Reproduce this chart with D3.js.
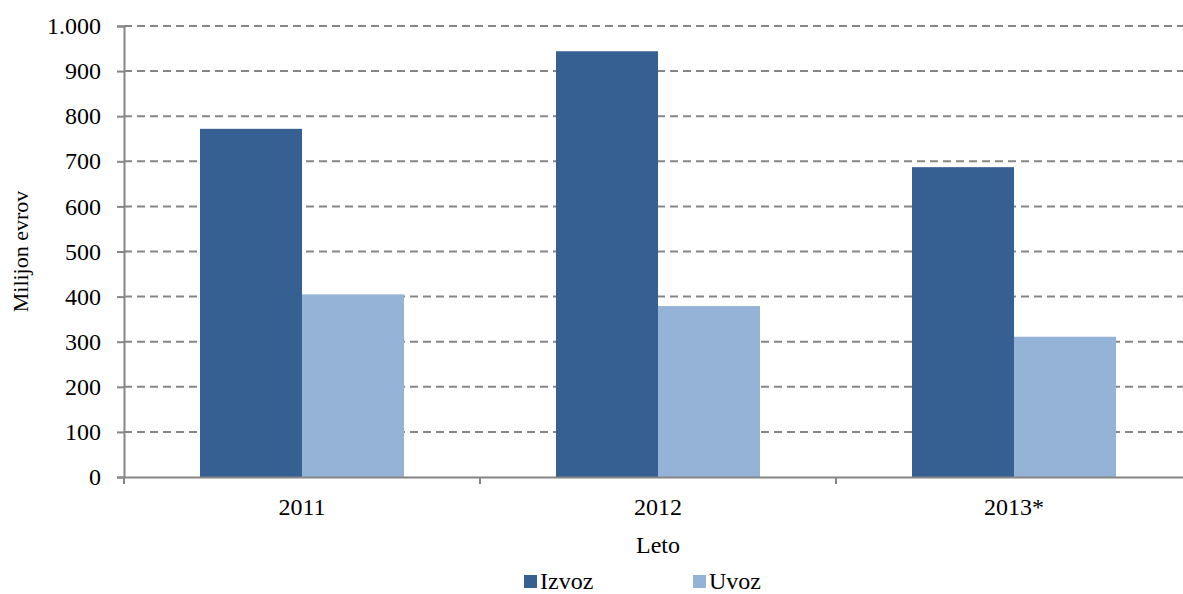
<!DOCTYPE html>
<html>
<head>
<meta charset="utf-8">
<script src="https://cdn.jsdelivr.net/npm/d3@7"></script>
<style>
  body { margin: 0; background: #fff; }
  text { font-family: "Liberation Serif", serif; }
</style>
</head>
<body>
<script>
// data
const categories = ["2011", "2012", "2013*"];
const seriesNames = ["Izvoz", "Uvoz"];
const izvoz = [772, 944, 687];
const uvoz = [405, 379, 311];
const yTicks = [0, 100, 200, 300, 400, 500, 600, 700, 800, 900, 1000];
const colors = ["#366092", "#95b3d7"];

const width = 1183, height = 594;
const margin = { top: 26, left: 124, plotRight: 1192, bottom: 477 };
const fontFamily = "Liberation Serif";
const fontSize = 24;

const svg = d3.select("body").append("svg")
    .attr("width", width)
    .attr("height", height)
    .attr("font-family", fontFamily);

const y = d3.scaleLinear()
    .domain([0, 1000])
    .range([margin.bottom, margin.top]);

const x0 = d3.scaleBand()
    .domain(categories)
    .range([margin.left, margin.plotRight])
    .paddingInner(0)
    .paddingOuter(0);

const gap = x0.bandwidth() * 0.2135;
const x1 = d3.scaleBand()
    .domain(seriesNames)
    .range([gap, x0.bandwidth() - gap])
    .padding(0);

// gridlines
svg.append("g")
    .selectAll("line")
    .data(yTicks.filter(d => d > 0))
    .enter().append("line")
    .attr("x1", margin.left)
    .attr("x2", margin.plotRight)
    .attr("y1", d => y(d))
    .attr("y2", d => y(d))
    .attr("stroke", "#868686")
    .attr("stroke-width", 2)
    .attr("stroke-dasharray", "8,5");

// bars
const rows = categories.map((c, i) => ({ cat: c, values: [izvoz[i], uvoz[i]] }));
const groups = svg.append("g")
    .selectAll("g")
    .data(rows)
    .enter().append("g")
    .attr("transform", d => `translate(${x0(d.cat)},0)`);

groups.selectAll("rect")
    .data(d => d.values.map((v, j) => ({ key: seriesNames[j], value: v, j })))
    .enter().append("rect")
    .attr("x", d => x1(d.key))
    .attr("width", x1.bandwidth())
    .attr("y", d => y(d.value))
    .attr("height", d => y(0) - y(d.value))
    .attr("fill", d => colors[d.j]);

// y axis
const yAxis = svg.append("g")
    .attr("transform", `translate(${margin.left},0)`)
    .call(d3.axisLeft(y).tickValues(yTicks).tickSize(7).tickPadding(16)
        .tickFormat(d => d3.format(",")(d).replace(/,/g, ".")))
    .attr("font-family", fontFamily)
    .attr("font-size", fontSize);
yAxis.select(".domain").attr("stroke", "#868686").attr("stroke-width", 2);
yAxis.selectAll(".tick line").attr("stroke", "#868686").attr("stroke-width", 2);
yAxis.selectAll(".tick text").attr("fill", "#000");

// x axis
const xAxis = svg.append("g")
    .attr("transform", `translate(0,${margin.bottom})`)
    .call(d3.axisBottom(x0).tickSize(0))
    .attr("font-family", fontFamily)
    .attr("font-size", fontSize);
xAxis.select(".domain").attr("stroke", "#868686").attr("stroke-width", 2);
xAxis.selectAll(".tick text")
    .attr("dy", null)
    .attr("y", 38)
    .attr("fill", "#000");
xAxis.selectAll("line.sep")
    .data(d3.range(categories.length + 1))
    .enter().append("line")
    .attr("class", "sep")
    .attr("x1", i => margin.left + i * x0.step())
    .attr("x2", i => margin.left + i * x0.step())
    .attr("y1", 0)
    .attr("y2", 7)
    .attr("stroke", "#868686")
    .attr("stroke-width", 2);

// axis titles
svg.append("text")
    .attr("x", (margin.left + margin.plotRight) / 2)
    .attr("y", 553)
    .attr("text-anchor", "middle")
    .attr("font-size", fontSize)
    .text("Leto");

svg.append("text")
    .attr("transform", `translate(28,${(margin.top + margin.bottom) / 2}) rotate(-90)`)
    .attr("text-anchor", "middle")
    .attr("font-size", 22)
    .text("Milijon evrov");

// legend
const legendX = [524, 693];
const legend = svg.append("g")
    .selectAll("g")
    .data(seriesNames)
    .enter().append("g")
    .attr("transform", (d, i) => `translate(${legendX[i]},575)`);
legend.append("rect")
    .attr("width", 13)
    .attr("height", 13)
    .attr("fill", (d, i) => colors[i]);
legend.append("text")
    .attr("x", 16)
    .attr("y", 14)
    .attr("font-size", fontSize)
    .text(d => d);
</script>
</body>
</html>
